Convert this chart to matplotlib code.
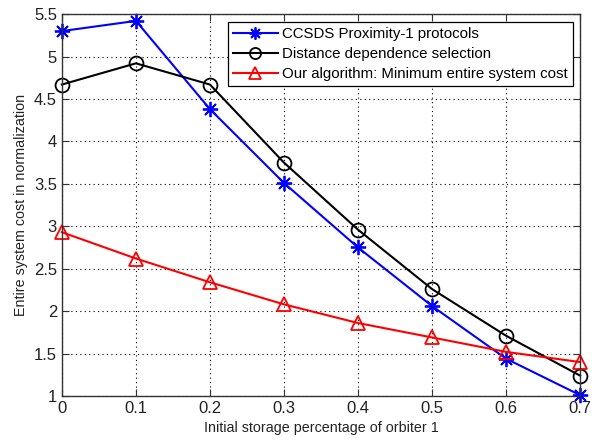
import matplotlib
matplotlib.use('Agg')
import matplotlib.pyplot as plt

plt.rcParams['font.family'] = ['Liberation Sans', 'DejaVu Sans']

x = [0, 0.1, 0.2, 0.3, 0.4, 0.5, 0.6, 0.7]
ccsds = [5.30, 5.42, 4.38, 3.51, 2.75, 2.06, 1.44, 1.01]
distance = [4.67, 4.92, 4.67, 3.75, 2.96, 2.26, 1.71, 1.24]
ours = [2.93, 2.62, 2.34, 2.08, 1.86, 1.69, 1.52, 1.40]

labels = ['CCSDS Proximity-1 protocols',
          'Distance dependence selection',
          'Our algorithm: Minimum entire system cost']

fig = plt.figure(figsize=(5.95, 4.41), dpi=100)
ax = fig.add_axes([0.104, 0.102, 0.871, 0.866])

ax.plot(x, ccsds, color='#0000ff', marker=(8, 2, 0), markersize=11, mew=1.3,
        lw=1.5, clip_on=False, label=labels[0])
ax.plot(x, distance, color='k', marker='o', markersize=10, mfc='none', mew=1.3,
        lw=1.5, clip_on=False, label=labels[1])
ax.plot(x, ours, color='#ff0000', marker='^', markersize=10, mfc='none', mew=1.3,
        lw=1.5, clip_on=False, label=labels[2])

ax.set_xlim(0, 0.7)
ax.set_ylim(1, 5.5)
ax.set_xticks(x)
ax.set_xticklabels(['0', '0.1', '0.2', '0.3', '0.4', '0.5', '0.6', '0.7'])
yt = [1, 1.5, 2, 2.5, 3, 3.5, 4, 4.5, 5, 5.5]
ax.set_yticks(yt)
ax.set_yticklabels(['1', '1.5', '2', '2.5', '3', '3.5', '4', '4.5', '5', '5.5'])
ax.tick_params(direction='in', top=True, right=True, labelsize=12, length=5,
               colors='#333333', labelcolor='#222222')
ax.grid(True, color='k', linestyle=(0, (1, 3)), linewidth=0.8)
for s in ax.spines.values():
    s.set_linewidth(1.0)
    s.set_color('#333333')

ax.set_xlabel('Initial storage percentage of orbiter 1', fontsize=10.3,
              color='#222222')
ax.set_ylabel('Entire system cost in normalization', fontsize=10.3,
              color='#222222')

leg = ax.legend(loc='upper right', fontsize=10.8, fancybox=False, framealpha=1,
                edgecolor='k', borderaxespad=0.5, handlelength=3.0,
                handletextpad=0.25, markerscale=0.8, borderpad=0.35,
                labelspacing=0.4)
leg.get_frame().set_linewidth(0.9)

fig.savefig('out.png', dpi=100)
